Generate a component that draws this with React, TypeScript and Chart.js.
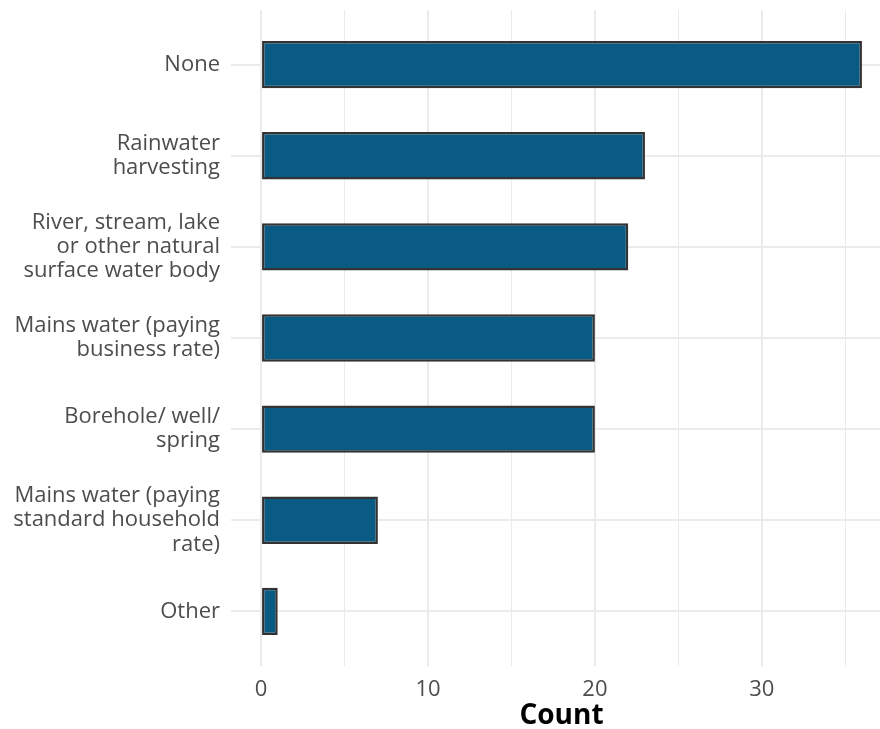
import React, { useEffect, useRef } from "react";
import { Chart, registerables } from "chart.js";

Chart.register(...registerables);

const categories: string[][] = [
  ["None"],
  ["Rainwater", "harvesting"],
  ["River, stream, lake", "or other natural", "surface water body"],
  ["Mains water (paying", "business rate)"],
  ["Borehole/ well/", "spring"],
  ["Mains water (paying", "standard household", "rate)"],
  ["Other"],
];
const counts: number[] = [36, 23, 22, 20, 20, 7, 1];
const xTicks: number[] = [0, 5, 10, 15, 20, 25, 30, 35];
const xTitle = "Count";

const FONT = "'Open Sans', sans-serif";

export default function App() {
  const ref = useRef<HTMLCanvasElement | null>(null);

  useEffect(() => {
    const canvas = ref.current;
    if (!canvas) return;
    const data = counts.map((v, i) => ({ x: v, y: i + 1 }));
    const chart = new Chart(canvas, {
      type: "bar",
      data: {
        datasets: [
          {
            data: data as any,
            backgroundColor: "#0a5b84",
            borderColor: "#333333",
            borderWidth: 2.5,
            borderSkipped: false,
            categoryPercentage: 1,
            barPercentage: 0.52,
          },
        ],
      },
      options: {
        indexAxis: "y",
        animation: false,
        responsive: false,
        maintainAspectRatio: false,
        events: [],
        layout: { padding: { top: 10, right: 0, bottom: 0, left: 0 } },
        plugins: { legend: { display: false }, tooltip: { enabled: false } },
        scales: {
          x: {
            type: "linear",
            min: -1.8,
            max: 37.8,
            position: "bottom",
            offset: false,
            afterBuildTicks: (s: any) => {
              s.ticks = xTicks.map((v) => ({ value: v }));
            },
            afterFit: (s: any) => {
              s.height = 63;
              s.paddingLeft = 0;
              s.paddingRight = 0;
            },
            border: { display: false },
            grid: {
              offset: false,
              drawTicks: false,
              color: "#ebebeb",
              lineWidth: (ctx: any) => (ctx.tick && ctx.tick.value % 10 === 0 ? 2 : 1),
            },
            ticks: {
              autoSkip: false,
              maxRotation: 0,
              padding: 11,
              color: "#4d4d4d",
              font: { family: FONT, size: 22 },
              callback: (v: any) => (Number(v) % 10 === 0 ? String(v) : ""),
            },
            title: {
              display: true,
              text: xTitle,
              color: "#000000",
              font: { family: FONT, size: 28, weight: "bold" },
              padding: { top: 0, bottom: -4 },
            },
          },
          y: {
            type: "linear",
            min: 0.4,
            max: 7.6,
            reverse: true,
            offset: false,
            afterBuildTicks: (s: any) => {
              s.ticks = categories.map((_, i) => ({ value: i + 1 }));
            },
            afterFit: (s: any) => {
              s.width = 231;
              s.paddingTop = 0;
              s.paddingBottom = 0;
            },
            border: { display: false },
            grid: { offset: false, drawTicks: false, color: "#ebebeb", lineWidth: 2 },
            ticks: {
              autoSkip: false,
              padding: 11,
              color: "#4d4d4d",
              font: { family: FONT, size: 22, lineHeight: 1.1 },
              callback: (v: any) => categories[Math.round(Number(v)) - 1] || "",
            },
          },
        },
      },
    });
    return () => chart.destroy();
  }, []);

  return (
    <div
      style={{
        position: "absolute",
        left: 0,
        top: 0,
        width: 880,
        height: 729,
        overflow: "hidden",
        background: "#ffffff",
      }}
    >
      <canvas ref={ref} width={892} height={729} style={{ display: "block", width: 892, height: 729 }} />
    </div>
  );
}
